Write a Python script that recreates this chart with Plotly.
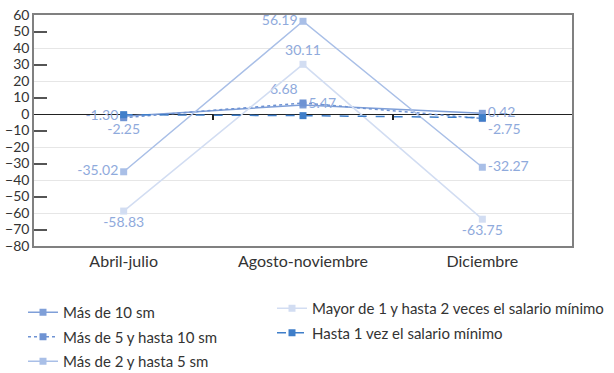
import plotly.graph_objects as go

categories = ["Abril-julio", "Agosto-noviembre", "Diciembre"]

mas_10 = [-1.30, 5.47, 0.42]
mas_5_10 = [-2.25, 6.68, -2.75]
mas_2_5 = [-35.02, 56.19, -32.27]
mayor_1_2 = [-58.83, 30.11, -63.75]
hasta_1 = [-0.4, -1.0, -2.2]

names = [
    "Más de 10 sm",
    "Más de 5 y hasta 10 sm",
    "Más de 2 y hasta 5 sm",
    "Mayor de 1 y hasta 2 veces el salario mínimo",
    "Hasta 1 vez el salario mínimo",
]

y_labels = list(range(-80, 61, 10))
y_odd = [v for v in y_labels if v % 20 != 0]
y_grid = [-60, -40, -20, 20, 40]

FONT = "Lato, 'Open Sans', sans-serif"
LABEL_COLOR = "#8faadc"

W, H = 614, 373

fig = go.Figure()

def fmt(vals):
    return [f"{v:.2f}" for v in vals]

specs = [
    (mas_10, names[0], "#7f9fd8", "solid", True, ["middle left", "middle right", "middle right"], "legend"),
    (mas_5_10, names[1], "#6f93d3", "dot", True, ["bottom center", "top left", "bottom right"], "legend"),
    (mas_2_5, names[2], "#a9bfe7", "solid", True, ["middle left", "middle left", "middle right"], "legend"),
    (mayor_1_2, names[3], "#d2ddf2", "solid", True, ["bottom center", "top center", "bottom center"], "legend2"),
    (hasta_1, names[4], "#3f7ec9", "dash", False, None, "legend2"),
]

for i, (vals, name, color, dash, lab, pos, lg) in enumerate(specs):
    fig.add_trace(go.Scatter(
        x=categories, y=vals, name=name,
        mode="lines+markers+text" if lab else "lines+markers",
        text=fmt(vals) if lab else None,
        textposition=pos,
        textfont=dict(family=FONT, size=14, color=LABEL_COLOR),
        line=dict(color=color, width=1.5, dash=dash),
        marker=dict(symbol="square", size=7, color=color),
        legend=lg, legendgroup=f"g{i}",
        cliponaxis=False,
    ))

# helper axes: gridlines every 20 and category-boundary ticks on zero line
fig.add_trace(go.Scatter(x=[0], y=[0], xaxis="x2", yaxis="y2", mode="markers",
                         marker=dict(opacity=0), showlegend=False, hoverinfo="skip"))

fig.update_layout(
    width=W, height=H,
    margin=dict(l=34, r=42, t=15, b=127, autoexpand=False),
    paper_bgcolor="white", plot_bgcolor="white",
    font=dict(family=FONT, color="#333333"),
    xaxis=dict(
        type="category", categoryorder="array", categoryarray=categories,
        range=[-0.5, 2.5], showgrid=False, zeroline=False,
        showline=True, mirror=True, linecolor="#808080", linewidth=1.5,
        ticks="", tickfont=dict(size=16, color="#333333"),
    ),
    yaxis=dict(
        range=[-80, 60], tickvals=y_labels, ticks="", showgrid=False,
        zeroline=True, zerolinecolor="#222222", zerolinewidth=1,
        showline=True, mirror=True, linecolor="#808080", linewidth=1.5,
        tickfont=dict(size=14, color="#333333"), ticklabeloverflow="allow",
        minor=dict(tickvals=y_odd, ticks="inside", ticklen=13, tickwidth=1.5,
                   tickcolor="#555555", showgrid=False),
    ),
    xaxis2=dict(
        overlaying="x", anchor="free", position=80 / 140, range=[-0.5, 2.5],
        tickvals=[0.5, 1.5], ticks="outside", ticklen=5, tickwidth=1.5, tickcolor="#222222",
        showticklabels=False, showgrid=False, zeroline=False, showline=False,
    ),
    yaxis2=dict(
        overlaying="y", anchor="x", range=[-80, 60], tickvals=y_grid,
        showgrid=True, gridcolor="#e6e6e6", gridwidth=1,
        showticklabels=False, ticks="", zeroline=False, showline=False,
    ),
    legend=dict(
        xref="container", yref="container", x=23 / W, y=1 - 296 / H,
        xanchor="left", yanchor="top", orientation="v",
        font=dict(size=15, color="#333333", family=FONT),
        tracegroupgap=2, bgcolor="rgba(0,0,0,0)",
    ),
    legend2=dict(
        xref="container", yref="container", x=272 / W, y=1 - 292 / H,
        xanchor="left", yanchor="top", orientation="v",
        font=dict(size=15, color="#333333", family=FONT),
        tracegroupgap=2, bgcolor="rgba(0,0,0,0)",
    ),
    showlegend=True,
)

fig.write_html("out.html", config={"displayModeBar": False},
               post_script="document.body.style.margin='0';")
